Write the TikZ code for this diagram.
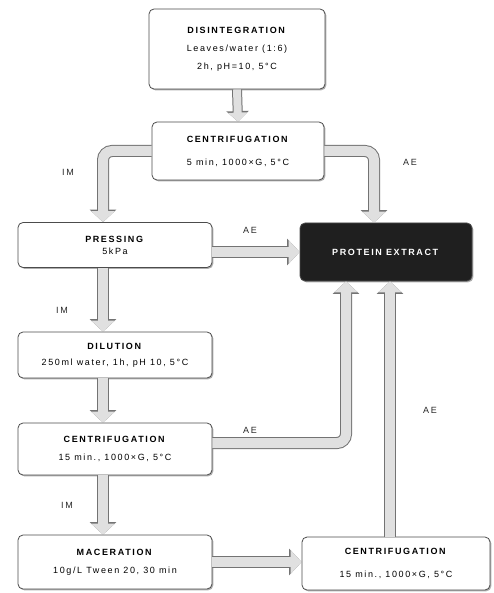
\documentclass[tikz,border=0pt]{standalone}
\usepackage{fontspec}
\setmainfont{Liberation Sans}[LetterSpace=18]
\usetikzlibrary{arrows.meta,shadows}
\begin{document}
\begin{tikzpicture}[x=1pt,y=-1pt,
  box/.style={draw=black!70, line width=0.8pt, rounded corners=5pt, fill=white,
    align=center, font=\fontsize{9}{18}\selectfont, inner sep=2pt,
    drop shadow={opacity=0.45, shadow xshift=1.3pt, shadow yshift=-1.3pt, fill=black!70}},
  darkbox/.style={box, fill=black!88, text=white},
  bigarrow/.style={line width=10pt, draw=black!12, rounded corners=9pt,
    -{Triangle[width=23pt,length=11pt]},
    preaction={draw=black!55, line width=12pt, -{Triangle[width=26pt,length=12.5pt]}}},
  smallarrow/.style={line width=8pt, draw=black!12,
    -{Triangle[width=19pt,length=9pt]},
    preaction={draw=black!55, line width=10pt, -{Triangle[width=22pt,length=10.5pt]}}},
  lbl/.style={font=\fontsize{9}{11}\selectfont, text=black!85}
]
\useasboundingbox (0,0) rectangle (493,593);

\node[box, minimum width=176pt, minimum height=80pt] (dis) at (237,49)
  {\textbf{DISINTEGRATION}\\Leaves/water (1:6)\\2h, pH=10, 5°C};
\node[box, minimum width=172pt, minimum height=58pt, font=\fontsize{9}{23}\selectfont] (c1) at (238,151)
  {\textbf{CENTRIFUGATION}\\5 min, 1000×G, 5°C};
\node[box, minimum width=194pt, minimum height=45pt, font=\fontsize{9}{12}\selectfont] (pr) at (115,245)
  {\textbf{PRESSING}\\5kPa};
\node[darkbox, minimum width=172pt, minimum height=58pt] (pe) at (386,252)
  {\textbf{PROTEIN EXTRACT}};
\node[box, minimum width=194pt, minimum height=46pt, font=\fontsize{9}{16}\selectfont] (dil) at (115,355)
  {\textbf{DILUTION}\\250ml water, 1h, pH 10, 5°C};
\node[box, minimum width=194pt, minimum height=52pt] (c2) at (115,449)
  {\textbf{CENTRIFUGATION}\\15 min., 1000×G, 5°C};
\node[box, minimum width=194pt, minimum height=54pt] (mac) at (115,562)
  {\textbf{MACERATION}\\10g/L Tween 20, 30 min};
\node[box, minimum width=188pt, minimum height=53pt, font=\fontsize{9}{23}\selectfont] (c3) at (396,563.5)
  {\textbf{CENTRIFUGATION}\\15 min., 1000×G, 5°C};

% arrows
\draw[smallarrow] (dis.south) -- (c1.north);
\draw[bigarrow] (c1.west) -| ([xshift=-12pt]pr.north);
\draw[bigarrow] (c1.east) -| ([xshift=-12pt]pe.north);
\draw[bigarrow] (pe.west -| pr.east) -- (pe.west);
\draw[bigarrow] ([xshift=-12pt]pr.south) -- ([xshift=-12pt]dil.north);
\draw[bigarrow] ([xshift=-12pt]dil.south) -- ([xshift=-12pt]c2.north);
\draw[bigarrow] ([yshift=6pt]c2.east) -| ([xshift=-40pt]pe.south);
\draw[bigarrow] ([xshift=-12pt]c2.south) -- ([xshift=-12pt]mac.north);
\draw[bigarrow] (mac.east) -- (mac.east -| c3.west);
\draw[bigarrow] ([xshift=-6pt]c3.north) -- ([xshift=-6pt]c3.north |- pe.south);

% labels
\node[lbl] (l1) at (68,172) {IM};
\node[lbl] (l2) at (410,162) {AE};
\node[lbl] (l3) at (250,230) {AE};
\node[lbl] (l4) at (62,310) {IM};
\node[lbl] (l5) at (250,430) {AE};
\node[lbl] (l6) at (67,505) {IM};
\node[lbl] (l7) at (430,410) {AE};
\end{tikzpicture}
\end{document}
